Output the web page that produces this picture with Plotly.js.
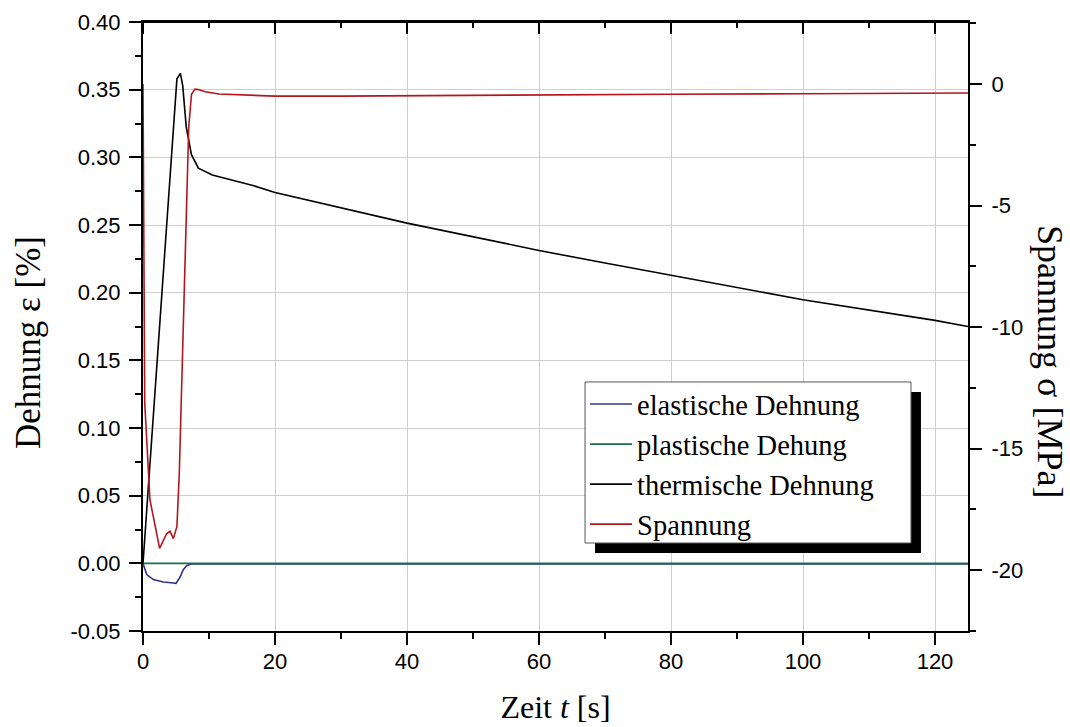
<!DOCTYPE html>
<html>
<head>
<meta charset="utf-8">
<script src="https://cdn.plot.ly/plotly-3.0.1.min.js"></script>
<style>html,body{margin:0;padding:0;background:#fff;}#chart{width:1070px;height:727px;}</style>
</head>
<body>
<div id="chart"></div>
<script>
// ---- data ----
const seriesNames = ['elastische Dehnung', 'plastische Dehung', 'thermische Dehnung', 'Spannung'];

const tElastic = [0, 0.56, 1.57, 3.08, 4.6, 5.0, 5.6, 6.1, 6.6, 7.3, 10, 125];
const elasticStrain = [0, -0.0083, -0.012, -0.0138, -0.0145, -0.0148, -0.0103, -0.0047, -0.0017, -0.0005, -0.0004, -0.0004];

const tPlastic = [0, 125];
const plasticStrain = [0, 0];

const tThermal = [0, 5.14, 5.66, 6.02, 6.55, 7.34, 8.39, 10.5, 16.8, 20, 40, 60, 69.2, 80, 100, 120, 125];
const thermalStrain = [0, 0.358, 0.362, 0.353, 0.3225, 0.302, 0.292, 0.287, 0.279, 0.274, 0.2514, 0.2312, 0.2226, 0.2127, 0.1948, 0.1795, 0.175];

const tStress = [0, 0.26, 1.05, 1.84, 2.52, 3.57, 4.09, 4.61, 5.14, 5.5, 6.3, 6.93, 7.35, 7.87, 8.4, 9.44, 11.5, 16.8, 20, 30, 40, 60, 80, 100, 125];
const stress = [0, -13.1, -17.1, -18.26, -19.1, -18.5, -18.4, -18.7, -18.2, -16.0, -7.45, -1.77, -0.42, -0.21, -0.23, -0.32, -0.41, -0.47, -0.5, -0.5, -0.48, -0.45, -0.42, -0.4, -0.37];

const xTickVals = [0, 20, 40, 60, 80, 100, 120];
const xTickText = ['0', '20', '40', '60', '80', '100', '120'];
const xMinorVals = [10, 30, 50, 70, 90, 110];
const yTickVals = [-0.05, 0, 0.05, 0.10, 0.15, 0.20, 0.25, 0.30, 0.35, 0.40];
const yTickText = ['-0.05', '0.00', '0.05', '0.10', '0.15', '0.20', '0.25', '0.30', '0.35', '0.40'];
const y2TickVals = [0, -5, -10, -15, -20];
const y2TickText = ['0', '-5', '-10', '-15', '-20'];

const xTitle = 'Zeit <i>t</i> [s]';
const yTitle = 'Dehnung ε [%]';
const y2Title = 'Spannung σ [MPa]';

// ---- chart ----
const serif = 'Liberation Serif, Times New Roman, serif';
const sans = 'Liberation Sans, Arial, sans-serif';

const traces = [
  {x: tElastic, y: elasticStrain, name: seriesNames[0], mode: 'lines', line: {color: '#33338a', width: 1.6}},
  {x: tPlastic, y: plasticStrain, name: seriesNames[1], mode: 'lines', line: {color: '#1b6e48', width: 1.8}},
  {x: tThermal, y: thermalStrain, name: seriesNames[2], mode: 'lines', line: {color: '#000000', width: 1.6}},
  {x: tStress, y: stress, name: seriesNames[3], mode: 'lines', yaxis: 'y2', line: {color: '#b5161e', width: 1.6}}
];

const axisCommon = {
  showline: true, linecolor: '#000', linewidth: 2,
  ticks: 'outside', ticklen: 12, tickwidth: 2, tickcolor: '#000',
  zeroline: false, tickmode: 'array',
  tickfont: {family: sans, size: 22, color: '#000'}
};
function minorTicks(dtick) {
  return {tickmode: 'linear', tick0: 0, dtick: dtick, ticks: 'outside', ticklen: 6, tickwidth: 2, tickcolor: '#000', showgrid: false};
}

// inward ticks on the top frame line, placed through the x axis
function topTick(v, len) {
  return {type: 'line', xref: 'x', yref: 'paper', ysizemode: 'pixel', yanchor: 1,
          x0: v, x1: v, y0: 0, y1: -len, layer: 'above', line: {color: '#000', width: 2}};
}
const frameTicks = xTickVals.map(v => topTick(v, 12)).concat(xMinorVals.map(v => topTick(v, 6)));

const layout = {
  width: 1070, height: 727,
  margin: {l: 143, r: 102, t: 22, b: 96, pad: 0},
  paper_bgcolor: '#fff', plot_bgcolor: '#fff',
  showlegend: true,
  xaxis: Object.assign({}, axisCommon, {
    range: [0, 125], tickvals: xTickVals, ticktext: xTickText,
    showgrid: true, gridcolor: '#cfcfcf', gridwidth: 1,
    mirror: true,
    minor: minorTicks(10),
    ticklabelstandoff: -2,
    title: {text: xTitle, font: {family: serif, size: 32, color: '#000'}, standoff: 22}
  }),
  yaxis: Object.assign({}, axisCommon, {
    range: [-0.05, 0.40], tickvals: yTickVals, ticktext: yTickText,
    showgrid: true, gridcolor: '#cfcfcf', gridwidth: 1,
    minor: minorTicks(0.025),
    ticklabelstandoff: 4
  }),
  yaxis2: Object.assign({}, axisCommon, {
    overlaying: 'y', side: 'right', anchor: 'x',
    range: [-22.5, 2.55], tickvals: y2TickVals, ticktext: y2TickText,
    showgrid: false,
    minor: minorTicks(2.5),
    ticklabelstandoff: 5
  }),
  legend: {
    x: 0.5358, y: 0.4138, xanchor: 'left', yanchor: 'top',
    bgcolor: 'rgba(0,0,0,0)', borderwidth: 0, itemwidth: 42,
    font: {family: serif, size: 28.5, color: '#000'},
    traceorder: 'normal', tracegroupgap: 0
  },
  shapes: [
    {type: 'line', xref: 'paper', yref: 'paper', layer: 'above',
     x0: 0, x1: 1, y0: 1, y1: 1, line: {color: '#000', width: 2}},
    {type: 'rect', xref: 'paper', yref: 'paper', layer: 'above',
     x0: 0.5479, x1: 0.9430, y0: 0.1281, y1: 0.3924,
     fillcolor: '#000', line: {width: 0}},
    {type: 'rect', xref: 'paper', yref: 'paper', layer: 'above',
     x0: 0.5358, x1: 0.9309, y0: 0.1445, y1: 0.4089,
     fillcolor: '#fff', line: {color: '#555', width: 1}}
  ].concat(frameTicks),
  annotations: [
    {text: yTitle, xref: 'paper', yref: 'paper',
     x: -0.1394, y: 0.4745, xanchor: 'center', yanchor: 'middle',
     textangle: -90, showarrow: false,
     font: {family: serif, size: 35, color: '#000'}},
    {text: y2Title, xref: 'paper', yref: 'paper',
     x: 1.0994, y: 0.4433, xanchor: 'center', yanchor: 'middle',
     textangle: 90, showarrow: false,
     font: {family: serif, size: 36, color: '#000'}}
  ]
};

Plotly.newPlot('chart', traces, layout, {displayModeBar: false, staticPlot: true});
</script>
</body>
</html>
